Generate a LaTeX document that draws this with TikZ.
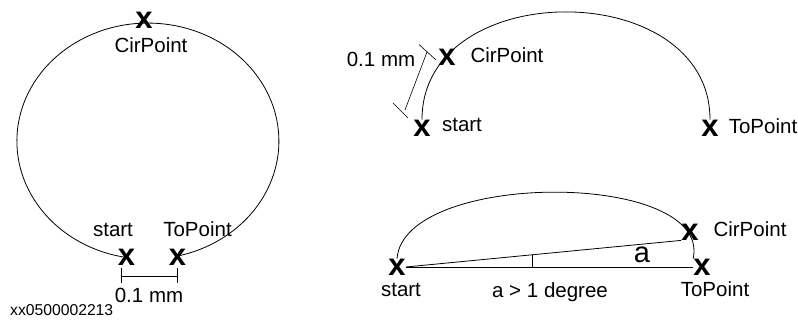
\documentclass[tikz,border=0pt]{standalone}
\usepackage{fontspec}
\setmainfont{Liberation Sans}
\usetikzlibrary{positioning,calc}
\tikzset{
  cross/.style={inner sep=0pt, font=\fontsize{31}{31}\selectfont\bfseries},
  lbl/.style={inner sep=0pt, anchor=base, font=\fontsize{20.5}{24}\selectfont},
  curve/.style={line width=0.8pt},
  dimline/.style={line width=0.6pt},
}
\begin{document}
\begin{tikzpicture}[x=1pt,y=-1pt]
\path[use as bounding box] (0,0) rectangle (798,320);

% full circle, start and ToPoint 0.1 mm apart
\node[cross] (s1) at (126.5,257.5) {x};
\node[cross] (t1) at (177.5,257.5) {x};
\node[cross] (c1) at (144,20) {x};
\draw[curve] (s1.center) arc[start angle=99.4, end angle=437, x radius=131, y radius=118];
\node[lbl] (c1l) at (151,53) {CirPoint};
\node[lbl] (s1l) at (113,237) {start};
\node[lbl] (t1l) at (197.5,237) {ToPoint};
\coordinate (d1a) at (121,276);
\coordinate (d1b) at (177,276);
\draw[dimline] (d1a) -- (d1b);
\draw[dimline] ([yshift=8pt]d1a) -- ([yshift=-7pt]d1a);
\draw[dimline] ([yshift=8pt]d1b) -- ([yshift=-7pt]d1b);
\node[lbl] (d1l) at (149,303) {0.1 mm};
\node[inner sep=0pt, anchor=base west, font=\fontsize{15.7}{18}\selectfont] (code) at (10,316) {xx0500002213};

% CirPoint too close to start
\node[cross] (s2) at (422,128) {x};
\node[cross] (c2) at (447,57) {x};
\node[cross] (t2) at (710,128) {x};
\draw[curve] (s2.north) .. controls (422,-24) and (710,-24) .. (t2.north);
\node[lbl] (c2l) at (507,63) {CirPoint};
\node[lbl] (s2l) at (462,132) {start};
\node[lbl] (t2l) at (763,134) {ToPoint};
\coordinate (d2a) at (427,52);
\coordinate (d2b) at (405,110);
\draw[dimline] (d2a) -- (d2b);
\draw[dimline] ($(d2a)+(-8,-7.5)$) -- ($(d2a)+(9,8)$);
\draw[dimline] ($(d2b)+(-12,-7)$) -- ($(d2b)+(3,8)$);
\node[lbl] (d2l) at (381,67) {0.1 mm};

% angle between CirPoint and ToPoint
\node[cross] (s3) at (397,267) {x};
\node[cross] (c3) at (690,232) {x};
\node[cross] (t3) at (702,267) {x};
\draw[curve] (s3.north) .. controls (404,170) and (712,170) .. (t3.north west);
\draw[curve] (s3.east) -- (t3.west);
\draw[curve] (s3.east) -- coordinate[pos=0.459] (m3) (c3.south west);
\draw[dimline] (m3) -- (m3 |- s3.east);
\node[inner sep=0pt, anchor=base, font=\fontsize{29}{30}\selectfont] (ang) at (642,263) {a};
\node[lbl] (c3l) at (750,237) {CirPoint};
\node[lbl] (s3l) at (401,297) {start};
\node[lbl] (t3l) at (715,297) {ToPoint};
\node[lbl] (deg) at (550,298) {a > 1 degree};
\end{tikzpicture}
\end{document}
